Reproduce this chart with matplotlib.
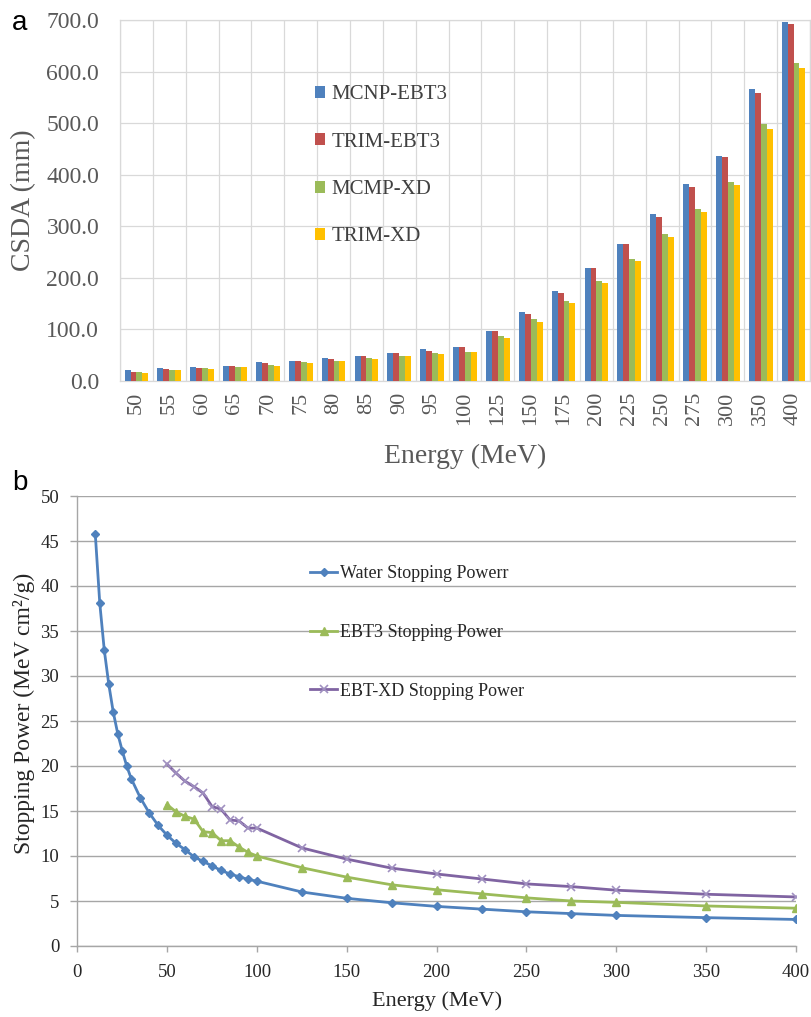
import matplotlib
matplotlib.use("Agg")
import matplotlib.pyplot as plt
import numpy as np
from matplotlib.lines import Line2D
from matplotlib.patches import Patch

# ---------------- data: panel a ----------------
energies_a = ["50", "55", "60", "65", "70", "75", "80", "85", "90", "95", "100",
              "125", "150", "175", "200", "225", "250", "275", "300", "350", "400"]
mcnp_ebt3 = [20.7, 25.2, 27.0, 29.7, 36.0, 38.8, 45.0, 47.8, 54.3, 61.4, 65.3,
             97.0, 133.0, 174.0, 219.0, 266.3, 323.0, 382.6, 436.9, 565.6, 697.0]
trim_ebt3 = [18.0, 22.6, 25.0, 29.7, 34.0, 38.8, 42.7, 47.8, 54.3, 58.8, 65.0,
             97.0, 130.5, 171.0, 219.0, 266.0, 318.6, 375.6, 434.0, 559.0, 693.0]
mcmp_xd = [18.0, 20.7, 25.0, 27.0, 31.6, 36.0, 38.8, 45.0, 47.8, 55.0, 56.2,
           87.0, 119.6, 155.7, 194.0, 237.0, 285.0, 333.0, 386.5, 497.7, 616.0]
trim_xd = [15.5, 20.7, 23.0, 27.0, 29.7, 34.0, 38.8, 42.7, 47.8, 52.4, 56.0,
           82.8, 115.0, 151.0, 189.4, 232.7, 279.8, 327.7, 380.0, 488.6, 606.0]
series_a_names = ["MCNP-EBT3", "TRIM-EBT3", "MCMP-XD", "TRIM-XD"]
yticks_a = [0, 100, 200, 300, 400, 500, 600, 700]

# ---------------- data: panel b ----------------
water_E = [10, 12.5, 15, 17.5, 20, 22.5, 25, 27.5, 30, 35, 40, 45, 50, 55, 60, 65,
           70, 75, 80, 85, 90, 95, 100, 125, 150, 175, 200, 225, 250, 275, 300, 350, 400]
water_S = [45.8, 38.1, 32.9, 29.1, 26.0, 23.6, 21.7, 20.0, 18.6, 16.5, 14.8, 13.4,
           12.3, 11.4, 10.7, 9.9, 9.4, 8.9, 8.4, 8.0, 7.7, 7.4, 7.2, 6.0, 5.3,
           4.8, 4.4, 4.1, 3.8, 3.6, 3.4, 3.15, 2.95]
film_E = [50, 55, 60, 65, 70, 75, 80, 85, 90, 95, 100, 125, 150, 175, 200, 225,
          250, 275, 300, 350, 400]
ebt3_S = [15.7, 14.9, 14.4, 14.1, 12.7, 12.6, 11.7, 11.7, 11.0, 10.4, 10.0, 8.7,
          7.65, 6.8, 6.25, 5.8, 5.35, 5.0, 4.85, 4.45, 4.2]
ebtxd_S = [20.2, 19.2, 18.3, 17.7, 17.0, 15.5, 15.2, 14.0, 13.9, 13.1, 13.1, 10.9,
           9.65, 8.65, 8.0, 7.45, 6.9, 6.6, 6.2, 5.75, 5.45]
series_b_names = ["Water Stopping Powerr", "EBT3 Stopping Power", "EBT-XD Stopping Power"]

# ---------------- style ----------------
SERIF = ["Liberation Serif", "DejaVu Serif"]
SANS = ["Liberation Sans", "DejaVu Sans"]
plt.rcParams["font.family"] = SERIF
c_blue, c_red, c_green, c_yellow, c_purple = "#4F81BD", "#C0504D", "#9BBB59", "#FFC000", "#8064A2"

W, H = 812, 1017
fig = plt.figure(figsize=(W / 100, H / 100), dpi=100)

def fx(px):
    return px / W

def fy(py):
    return 1 - py / H

# ---------------- panel a ----------------
axa = fig.add_axes([fx(120), fy(381), fx(810) - fx(120), fy(20) - fy(381)])
x = np.arange(len(energies_a))
bw = 0.18
cols_a = [c_blue, c_red, c_green, c_yellow]
for i, (vals, col) in enumerate(zip([mcnp_ebt3, trim_ebt3, mcmp_xd, trim_xd], cols_a)):
    axa.bar(x + (i - 1.5) * bw, vals, width=bw, color=col, zorder=3, linewidth=0)

axa.set_xlim(-0.5, len(energies_a) - 0.5)
axa.set_ylim(0, 700)
axa.set_yticks(yticks_a)
axa.set_yticklabels([f"{v:.1f}" for v in yticks_a])
axa.set_xticks(x)
axa.set_xticklabels(energies_a, rotation=90)
axa.set_xticks(np.arange(-0.5, len(energies_a), 1.0), minor=True)
axa.grid(True, which="minor", axis="x", color="#D9D9D9", lw=0.9, zorder=0)
axa.grid(True, which="major", axis="y", color="#D9D9D9", lw=0.9, zorder=0)
for s in axa.spines.values():
    s.set_color("#D9D9D9")
    s.set_linewidth(0.9)
axa.tick_params(axis="both", which="both", length=0, colors="#595959")
axa.tick_params(axis="y", labelsize=17, pad=15)
axa.tick_params(axis="x", labelsize=16, pad=8)
axa.set_ylabel("CSDA (mm)", fontsize=20, color="#595959")
axa.yaxis.set_label_coords((36 - 120) / 690, 0.5)
axa.set_xlabel("Energy (MeV)", fontsize=20, color="#595959")
axa.xaxis.set_label_coords(0.5, (381 - 444) / 361)

handles_a = [Patch(facecolor=c, edgecolor="none") for c in cols_a]
axa.legend(handles_a, series_a_names, loc="center left",
           bbox_to_anchor=(fx(315), fy(166)), bbox_transform=fig.transFigure,
           frameon=False, fontsize=15, handlelength=0.5, handleheight=0.5,
           handletextpad=0.3, labelspacing=1.36, borderpad=0, borderaxespad=0,
           labelcolor="#404040")

fig.text(fx(12), fy(30), "a", fontsize=20, family=SANS, ha="left", va="baseline")

# ---------------- panel b ----------------
axb = fig.add_axes([fx(77.3), fy(946), fx(796) - fx(77.3), fy(496) - fy(946)])
axb.plot(water_E, water_S, color=c_blue, lw=2.0, marker="D", ms=4.5,
         mec=c_blue, mfc=c_blue, zorder=3)
axb.plot(film_E, ebt3_S, color=c_green, lw=2.0, marker="^", ms=6,
         mec=c_green, mfc=c_green, zorder=3)
axb.plot(film_E, ebtxd_S, color=c_purple, lw=2.0, marker="x", ms=6, mew=1.2,
         mec="#A090C0", zorder=4)
axb.set_xlim(0, 400)
axb.set_ylim(0, 50)
axb.set_xticks(np.arange(0, 401, 50))
axb.set_yticks(np.arange(0, 51, 5))
axb.grid(True, axis="y", color="#A6A6A6", lw=1.0, zorder=0)
for side in ["top", "right"]:
    axb.spines[side].set_visible(False)
for side in ["left", "bottom"]:
    axb.spines[side].set_color("#A6A6A6")
    axb.spines[side].set_linewidth(1.0)
axb.tick_params(axis="both", colors="#A6A6A6", labelcolor="#262626", labelsize=13.5)
axb.tick_params(axis="y", length=5, width=1.0, pad=8)
axb.tick_params(axis="x", length=4, width=1.0, pad=9)
axb.set_ylabel("Stopping Power (MeV cm²/g)", fontsize=17, color="#262626")
axb.yaxis.set_label_coords((35 - 77.3) / 718.7, (946 - 713) / 450)
axb.set_xlabel("Energy (MeV)", fontsize=16, color="#262626")
axb.xaxis.set_label_coords(0.5, (946 - 991) / 450)

handles_b = [
    Line2D([], [], color=c_blue, lw=2.0, marker="D", ms=4.5),
    Line2D([], [], color=c_green, lw=2.0, marker="^", ms=6),
    Line2D([], [], color=c_purple, lw=2.0, marker="x", ms=6, mew=1.2, mec="#A090C0"),
]
axb.legend(handles_b, series_b_names, loc="center left",
           bbox_to_anchor=(fx(310), fy(632.5)), bbox_transform=fig.transFigure,
           frameon=False, fontsize=13, handlelength=1.5, handletextpad=0.15,
           labelspacing=2.3, borderpad=0, borderaxespad=0, labelcolor="#262626")

fig.text(fx(12), fy(490), "b", fontsize=20, family=SANS, ha="left", va="baseline")

fig.savefig("out.png", dpi=100)
